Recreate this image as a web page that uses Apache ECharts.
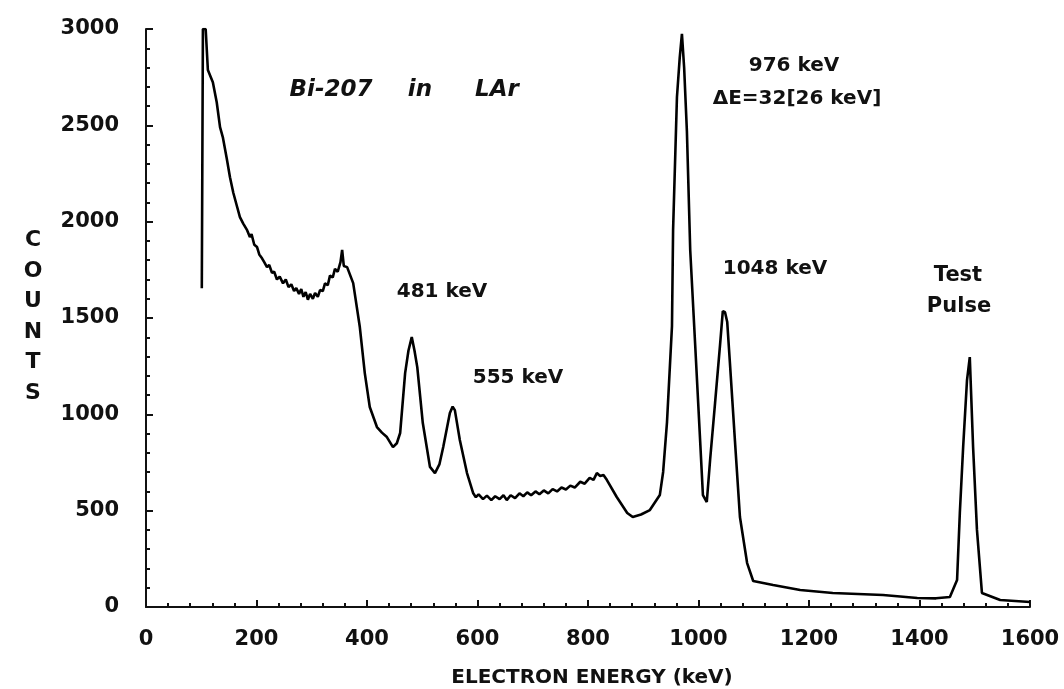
<!DOCTYPE html>
<html>
<head>
<meta charset="utf-8">
<style>
  html, body { margin: 0; padding: 0; background: #fff; }
  #chart { width: 1064px; height: 689px; }
</style>
<script src="https://cdn.jsdelivr.net/npm/echarts@6/dist/echarts.min.js"></script>
</head>
<body>
<div id="chart"></div>
<script>
// Bi-207 spectrum in liquid argon
const energy = [
  101, 103, 108, 112, 121, 128, 134, 139, 146, 152, 158, 165, 170, 176,
  183, 188, 191, 196, 201, 205, 210, 214, 219, 223, 228, 232, 237, 242, 248, 253,
  258, 263, 268, 272, 277, 281, 285, 289, 293, 297, 302, 306, 311, 315, 320, 324,
  329, 333, 338, 342, 347, 352, 355, 358, 364, 375, 387, 396, 405, 418, 427, 436,
  447, 454, 460, 469, 475, 481, 486, 491, 501, 514, 523, 531, 538, 550, 555, 559,
  568, 581, 592, 597, 602, 610, 617, 625, 632, 640, 647, 653, 660, 668, 676, 683,
  690, 697, 705, 712, 720, 728, 736, 744, 752, 760, 768, 776, 786, 794, 803, 810,
  816, 822, 828, 834, 852, 871, 881, 896, 912, 930, 936, 943, 952, 954, 961, 966,
  970, 974, 979, 985, 994, 1003, 1008, 1015, 1021, 1030, 1039, 1044, 1048, 1052,
  1057, 1066, 1075, 1088, 1099, 1135, 1184, 1243, 1334, 1396, 1430, 1455, 1468,
  1473, 1479, 1486, 1491, 1497, 1504, 1513, 1546, 1600
];
const counts = [
  1655, 3000, 3000, 2787, 2724, 2620, 2491, 2439, 2330, 2231, 2150, 2076, 2024, 1990,
  1956, 1920, 1935, 1880, 1868, 1830, 1810, 1790, 1764, 1775, 1735, 1740, 1700, 1715, 1680, 1700,
  1660, 1675, 1640, 1655, 1625, 1650, 1610, 1635, 1595, 1625, 1600, 1630, 1610, 1645, 1640, 1680,
  1670, 1720, 1710, 1755, 1740, 1790, 1853, 1770, 1764, 1681, 1453, 1214, 1038, 934, 905, 882,
  830, 850, 903, 1214, 1330, 1401, 1330, 1245, 955, 727, 695, 740, 830, 1007, 1040, 1022,
  867, 695, 592, 570, 585, 560, 578, 555, 575, 560, 580, 555, 580, 565, 590, 575,
  595, 580, 600, 585, 605, 590, 612, 600, 620, 610, 630, 620, 650, 640, 670, 660,
  695, 680, 685, 660, 571, 488, 467, 480, 503, 581, 701, 960, 1458, 1956, 2647, 2850,
  2975, 2800, 2470, 1853, 1360, 861, 581, 545, 763, 1059, 1360, 1536, 1530, 1479,
  1261, 861, 467, 228, 135, 114, 88, 73, 62, 47, 45, 52, 140,
  488, 830, 1178, 1297, 830, 400, 73, 36, 26
];
const xTicks = [0, 200, 400, 600, 800, 1000, 1200, 1400, 1600];
const yTicks = [0, 500, 1000, 1500, 2000, 2500, 3000];

const chart = echarts.init(document.getElementById('chart'));

const ink = '#111';
const font = 'DejaVu Sans';

function label(text, x, y, size, style) {
  return {
    type: 'text',
    x: x, y: y,
    style: Object.assign({
      text: text,
      font: 'bold ' + size + 'px "' + font + '"',
      fill: ink,
      align: 'center',
      verticalAlign: 'middle'
    }, style || {})
  };
}

chart.setOption({
  animation: false,
  backgroundColor: '#fff',
  grid: { left: 146, right: 34, top: 29, bottom: 82 },
  xAxis: {
    type: 'value',
    min: xTicks[0],
    max: xTicks[xTicks.length - 1],
    interval: 200,
    axisLine: { lineStyle: { color: ink, width: 2 } },
    axisTick: { inside: true, length: 7, lineStyle: { color: ink, width: 2 } },
    minorTick: { show: true, splitNumber: 5, length: 4, lineStyle: { color: ink, width: 2 } },
    splitLine: { show: false },
    axisLabel: {
      color: ink, fontFamily: font, fontWeight: 'bold', fontSize: 21, margin: 22,
      formatter: v => String(v)
    }
  },
  yAxis: {
    type: 'value',
    min: yTicks[0],
    max: yTicks[yTicks.length - 1],
    interval: 500,
    axisLine: { show: true, lineStyle: { color: ink, width: 2 } },
    axisTick: { show: true, inside: true, length: 7, lineStyle: { color: ink, width: 2 } },
    minorTick: { show: true, splitNumber: 5, length: 4, lineStyle: { color: ink, width: 2 } },
    splitLine: { show: false },
    axisLabel: {
      color: ink, fontFamily: font, fontWeight: 'bold', fontSize: 21, margin: 27,
      formatter: v => String(v)
    }
  },
  series: [{
    type: 'line',
    data: energy.map((e, i) => [e, counts[i]]),
    showSymbol: false,
    smooth: false,
    lineStyle: { color: '#000', width: 2.6 },
    clip: true
  }],
  graphic: [
    label('C\nO\nU\nN\nT\nS', 33, 317, 22, { lineHeight: 30.5 }),
    label('ELECTRON ENERGY (keV)', 592, 678, 20, {
      font: 'bold 20px "Liberation Sans Narrow", "' + font + '"'
    }),
    label('Bi-207', 331, 90, 23, { font: 'italic bold 23px "' + font + '"' }),
    label('in', 420, 90, 23, { font: 'italic bold 23px "' + font + '"' }),
    label('LAr', 497, 90, 23, { font: 'italic bold 23px "' + font + '"' }),
    label('976 keV', 794, 66, 20),
    label('ΔE=32[26 keV]', 797, 99, 20),
    label('481 keV', 442, 292, 20),
    label('555 keV', 518, 378, 20),
    label('1048 keV', 775, 269, 20),
    label('Test', 958, 276, 21),
    label('Pulse', 959, 307, 21)
  ]
});
</script>
</body>
</html>
